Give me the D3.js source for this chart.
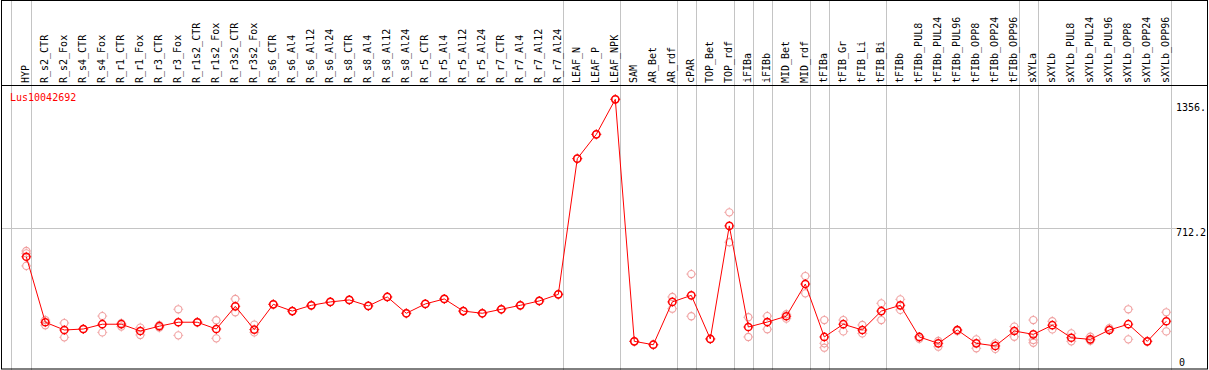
<!DOCTYPE html>
<html><head><meta charset="utf-8">
<script src="https://cdn.jsdelivr.net/npm/d3@7"></script>
<style>
html,body{margin:0;padding:0;background:#fff;}
svg{display:block;}
text{font-family:"DejaVu Sans Mono","Liberation Mono",monospace;font-size:10px;}
</style></head>
<body>
<svg id="chart" width="1209" height="370"></svg>
<script>
const categories = ["HYP","R_s2_CTR","R_s2_Fox","R_s4_CTR","R_s4_Fox","R_r1_CTR","R_r1_Fox","R_r3_CTR","R_r3_Fox","R_r1s2_CTR","R_r1s2_Fox","R_r3s2_CTR","R_r3s2_Fox","R_s6_CTR","R_s6_Al4","R_s6_Al12","R_s6_Al24","R_s8_CTR","R_s8_Al4","R_s8_Al12","R_s8_Al24","R_r5_CTR","R_r5_Al4","R_r5_Al12","R_r5_Al24","R_r7_CTR","R_r7_Al4","R_r7_Al12","R_r7_Al24","LEAF_N","LEAF_P","LEAF_NPK","SAM","AR_Bet","AR_rdf","cPAR","TOP_Bet","TOP_rdf","iFIBa","iFIBb","MID_Bet","MID_rdf","tFIBa","tFIB_Gr","tFIB_Li","tFIB_Bi","tFIBb","tFIBb_PUL8","tFIBb_PUL24","tFIBb_PUL96","tFIBb_OPP8","tFIBb_OPP24","tFIBb_OPP96","sXYLa","sXYLb","sXYLb_PUL8","sXYLb_PUL24","sXYLb_PUL96","sXYLb_OPP8","sXYLb_OPP24","sXYLb_OPP96"];

const meanValues = [569,240,201,206,230,230,196,220,240,240,206,320,203,330,296,325,342,352,322,367,285,332,357,296,285,305,325,347,380,1062,1184,1360,144,127,342,375,156,724,216,241,270,432,166,230,201,296,325,166,134,201,134,121,196,179,225,162,154,201,230,144,245];

const rep1 = [598,251,236,206,271,235,213,225,305,240,250,357,228,330,296,325,342,352,322,367,285,332,357,296,285,305,325,347,380,1062,1184,1360,144,127,367,482,156,792,265,271,280,472,251,251,226,335,355,157,146,196,154,134,218,251,245,184,167,210,305,144,290];
const rep2 = [586,225,164,206,189,218,176,213,174,240,159,290,189,330,296,325,342,352,322,367,285,332,357,296,285,305,325,347,380,1062,1184,1360,144,127,308,270,156,642,166,205,258,385,134,194,184,251,302,166,117,201,109,106,167,151,204,144,147,201,154,144,194];
const rep3 = [523,null,null,null,null,null,null,null,null,null,null,null,null,null,null,null,null,null,null,null,null,null,null,null,null,null,null,null,null,null,null,null,null,null,null,null,null,null,null,null,null,null,112,null,null,null,null,null,null,null,null,null,null,137,null,null,null,null,null,null,null];

const groupEnds = ["HYP","R_r7_Al24","LEAF_NPK","AR_rdf","cPAR","TOP_rdf","iFIBa","iFIBb","MID_rdf","tFIBa","tFIB_Bi","tFIBb_OPP96","sXYLa","sXYLb_OPP96"];
const axisTicks = [0, 712.2, 1356];
const axisTickLabels = ["0", "712.2", "1356."];
const geneName = "Lus10042692";

const W = 1209, H = 370;
const svg = d3.select("#chart");
const headerBottom = 85;

const x = d3.scalePoint().domain(categories).range([26.3, 1166.3]);
const y = d3.scaleLinear().domain([0, 1424.4]).range([370, 86.5]);

// vertical separators
const sepX = [x(categories[0]) - 15.6].concat(groupEnds.map(c => x(c) + 4.4));
svg.append("g").selectAll("line").data(sepX).join("line")
  .attr("x1", d => Math.round(d) + 0.5).attr("x2", d => Math.round(d) + 0.5)
  .attr("y1", 0).attr("y2", H)
  .attr("stroke", "#c4c4c4").attr("stroke-width", 1);

// horizontal gridline at 712.2
svg.append("line")
  .attr("x1", 1).attr("x2", 1176)
  .attr("y1", Math.round(y(712.2)) + 0.5).attr("y2", Math.round(y(712.2)) + 0.5)
  .attr("stroke", "#c4c4c4").attr("stroke-width", 1);

// frame
svg.append("rect").attr("x", 1.5).attr("y", 0.5).attr("width", 1206).attr("height", 368.5)
  .attr("fill", "none").attr("stroke", "#000").attr("stroke-width", 1);
svg.append("line").attr("x1", 1).attr("x2", 1208)
  .attr("y1", headerBottom + 0.5).attr("y2", headerBottom + 0.5)
  .attr("stroke", "#000").attr("stroke-width", 1.2);

// header labels
svg.append("g").selectAll("text").data(categories).join("text")
  .attr("transform", d => `translate(${x(d) + 2.8},83) rotate(-90)`)
  .attr("text-anchor", "start")
  .attr("fill", "#000")
  .text(d => d);

// right axis labels
svg.append("g").selectAll("text").data(axisTicks).join("text")
  .attr("x", (d, i) => i === 0 ? 1179 : 1176)
  .attr("y", (d, i) => i === 0 ? 366 : y(d) + (i === 1 ? 8 : 11))
  .attr("fill", "#000")
  .text((d, i) => axisTickLabels[i]);

// gene name
svg.append("text").attr("x", 10).attr("y", 101).attr("fill", "#ff0000").text(geneName);

// marker
function marker(g, cx, cy, color, sw) {
  const r = 3.6;
  g.append("circle").attr("cx", cx).attr("cy", cy).attr("r", r)
    .attr("fill", "none").attr("stroke", color).attr("stroke-width", sw);
  const t = [[0, -1], [0, 1], [-1, 0], [1, 0]];
  t.forEach(([dx, dy]) => {
    g.append("line")
      .attr("x1", cx + dx * (r + 0.3)).attr("y1", cy + dy * (r + 0.3))
      .attr("x2", cx + dx * (r + 1.3)).attr("y2", cy + dy * (r + 1.3))
      .attr("stroke", color).attr("stroke-width", 1);
  });
}

// replicates
const repG = svg.append("g");
[rep1, rep2, rep3].forEach(arr => {
  arr.forEach((v, i) => {
    if (v == null) return;
    marker(repG, x(categories[i]), y(v), "#f0a0a0", 1.1);
  });
});

// mean line
const line = d3.line().x((d, i) => x(categories[i])).y(d => y(d));
svg.append("path").datum(meanValues).attr("d", line)
  .attr("fill", "none").attr("stroke", "#ff0000").attr("stroke-width", 1);

// mean markers
const meanG = svg.append("g");
meanValues.forEach((v, i) => marker(meanG, x(categories[i]), y(v), "#ff0000", 1.5));
</script>
</body></html>
